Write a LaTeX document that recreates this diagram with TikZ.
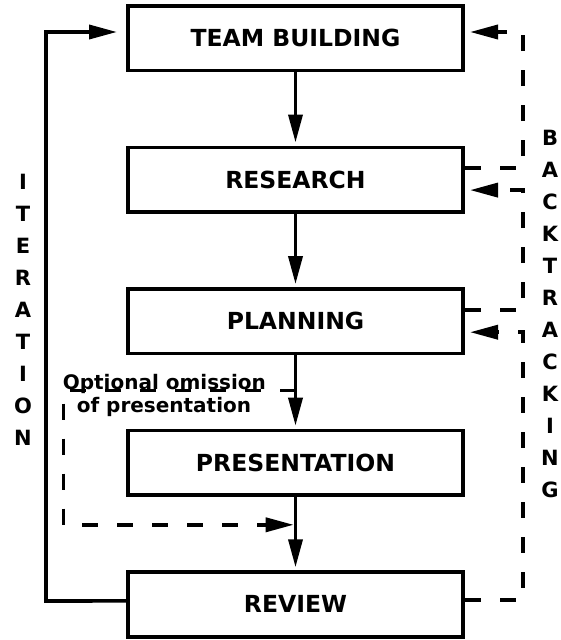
\documentclass[tikz,border=0pt]{standalone}
\usepackage{fontspec}
\setmainfont{DejaVu Sans}
\usepackage{tikz}
\usetikzlibrary{positioning}
\usetikzlibrary{calc}
\usetikzlibrary{arrows.meta}

\begin{document}
\begin{tikzpicture}[x=1pt, y=-1pt, line width=3.6pt,
    stage/.style={draw, minimum width=335.4pt, minimum height=64.6pt, inner sep=0pt, font=\fontsize{23.5}{28}\selectfont\bfseries},
    flow/.style={-{Triangle[length=28pt, width=14pt]}, shorten >=3pt},
    back/.style={flow, dash pattern=on 16pt off 19pt, shorten >=5pt},
    note/.style={anchor=base west, inner sep=0pt, font=\fontsize{20}{24}\selectfont\bfseries},
    letter/.style={inner sep=0pt, font=\fontsize{21}{24}\selectfont\bfseries}]

    \useasboundingbox (0,0) rectangle (561,640);

    \node [stage] (team) at (295.5,38) {TEAM BUILDING};
    \node [stage, below=73.4pt of team] (research) {RESEARCH};
    \node [stage, below=73.4pt of research] (planning) {PLANNING};
    \node [stage, below=73.4pt of planning] (present) {PRESENTATION};
    \node [stage, below=73.4pt of present] (review) {REVIEW};

    \coordinate (itlow) at (46,601);
    \coordinate (ithigh) at (46,32);
    \coordinate (optstart) at ($(planning.south)!0.48!(present.north)$);
    \coordinate (optend) at ($(present.south)!0.38!(review.north)$);

    \draw [flow] (team) -- (research);
    \draw [flow] (research) -- (planning);
    \draw [flow] (planning) -- (present);
    \draw [flow] (present) -- (review);
    \draw [flow, shorten >=9pt] ([yshift=3.5pt]review.west) -- (itlow) -- (ithigh) -- ([yshift=6pt]team.west);

    \draw [back] ([yshift=11.5pt]research.east) -- ++(58pt,0) |- ([yshift=6pt]team.east);
    \draw [back] ([yshift=11pt]planning.east) -- ++(58pt,0) |- ([yshift=-10.5pt]research.east);
    \draw [back] ([yshift=4.5pt]review.east) -- ++(58pt,0) |- ([yshift=-11pt]planning.east);
    \draw [back, shorten >=1.8pt] (optstart) -- ++(-232pt,0) |- (optend);

    \node [note] (optline1) at (61,389) {Optional omission};
    \node [note] (optline2) at (75,412) {of presentation};

    \foreach \ch [count=\i from 0] in {I,T,E,R,A,T,I,O,N}
        \node [letter] (iter\i) at (23,182+32*\i) {\ch};
    \foreach \ch [count=\i from 0] in {B,A,C,K,T,R,A,C,K,I,N,G}
        \node [letter] (back\i) at (550,138+32*\i) {\ch};
\end{tikzpicture}
\end{document}
